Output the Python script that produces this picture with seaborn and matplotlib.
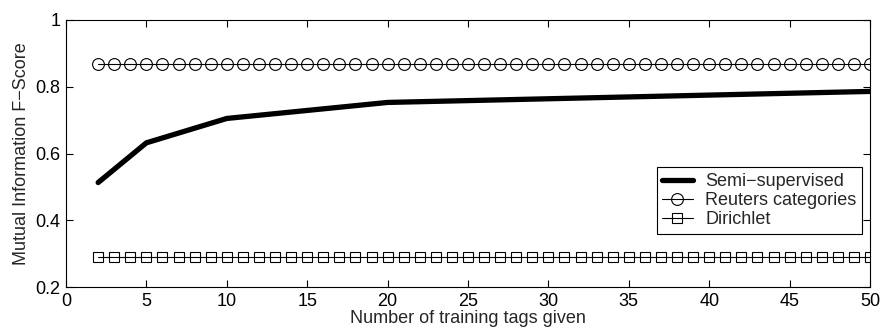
import pandas as pd
import matplotlib
matplotlib.use("Agg")
import matplotlib.pyplot as plt
import seaborn as sns

# values
semi_x = [2, 5, 10, 20, 50]
semi_y = [0.513, 0.632, 0.705, 0.753, 0.786]

baseline_x = list(range(2, 51))
reuters_level = 0.869
dirichlet_level = 0.289
reuters_y = [reuters_level] * len(baseline_x)
dirichlet_y = [dirichlet_level] * len(baseline_x)

x_ticks = [0, 5, 10, 15, 20, 25, 30, 35, 40, 45, 50]
y_ticks = [0.2, 0.4, 0.6, 0.8, 1]
y_tick_labels = ["0.2", "0.4", "0.6", "0.8", "1"]

sns.set_style("ticks")
plt.rcParams["font.family"] = ["Liberation Sans", "DejaVu Sans"]
plt.rcParams["xtick.direction"] = "in"
plt.rcParams["ytick.direction"] = "in"

fig = plt.figure(figsize=(8.8, 3.34), dpi=100)
ax = fig.add_axes([66 / 880, 1 - 287 / 334, 804 / 880, 267 / 334])

sns.lineplot(x=semi_x, y=semi_y, ax=ax, color="black", linewidth=3.8,
             label="Semi\u2212supervised")
sns.lineplot(x=baseline_x, y=reuters_y, ax=ax, color="black", linewidth=0.8,
             marker="o", markersize=8.5, markerfacecolor="none",
             markeredgecolor="black", markeredgewidth=0.8,
             label="Reuters categories")
sns.lineplot(x=baseline_x, y=dirichlet_y, ax=ax, color="black", linewidth=0.8,
             marker="s", markersize=6.5, markerfacecolor="none",
             markeredgecolor="black", markeredgewidth=0.8,
             label="Dirichlet")

ax.set_xlim(0, 50)
ax.set_ylim(0.2, 1)
ax.set_xticks(x_ticks)
ax.set_yticks(y_ticks)
ax.set_yticklabels(y_tick_labels)
ax.tick_params(top=True, right=True, length=5, width=0.8, labelsize=13,
               color="black", labelcolor="black", pad=4)
for s in ax.spines.values():
    s.set_visible(True)
    s.set_linewidth(0.8)
    s.set_color("black")

ax.set_xlabel("Number of training tags given", fontsize=13, labelpad=0)
ax.set_ylabel("Mutual Information F\u2212Score", fontsize=13, labelpad=4)

# boxed legend, lower right like the original
leg = ax.legend(loc="lower right", bbox_to_anchor=(0.99, 0.2), fontsize=13,
                frameon=True, fancybox=False, edgecolor="black",
                framealpha=1, handlelength=1.7, handletextpad=0.7,
                borderpad=0.3, labelspacing=0.12, borderaxespad=0)
leg.get_frame().set_linewidth(0.8)

fig.savefig("out.png", dpi=100)
